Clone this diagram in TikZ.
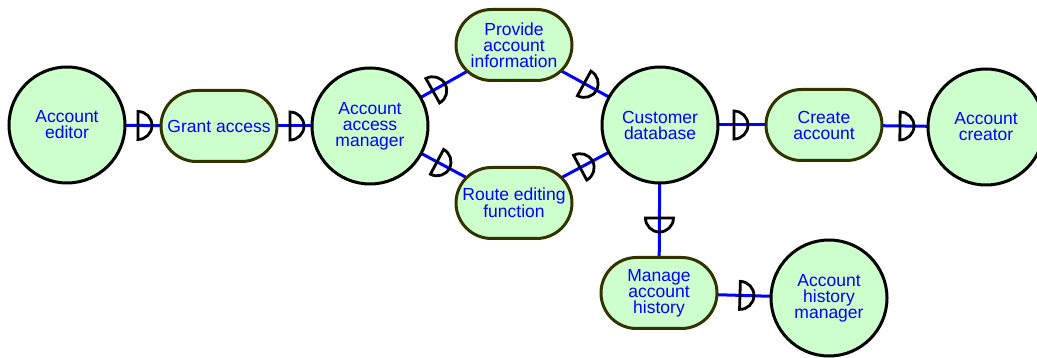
\documentclass[tikz,border=0pt]{standalone}
\usepackage{fontspec}
\setmainfont{Liberation Sans}
\usetikzlibrary{shapes.misc,decorations.markings}
\pgfdeclarelayer{background}
\pgfsetlayers{background,main}
\definecolor{nodefill}{HTML}{CCFFCC}
\definecolor{capsuleedge}{HTML}{333300}
\definecolor{linkblue}{HTML}{0000FF}

\tikzset{
  labeltext/.style={text=linkblue, align=center, font=\fontsize{17.5}{16}\selectfont},
  actor/.style={circle, draw=black, line width=3pt, fill=nodefill,
    minimum size=116pt, inner sep=0pt, labeltext},
  usecase/.style={rounded rectangle, draw=capsuleedge, line width=3pt, fill=nodefill,
    minimum width=116pt, minimum height=71pt, inner sep=0pt, labeltext},
  link/.style={draw=linkblue, line width=3pt},
  % half-disc socket: flat side faces the start of the link, bulge faces its end
  socket/.style={postaction={decorate, decoration={markings,
    mark=at position #1 with {\draw[black, line width=2.8pt]
      (0pt,14pt) arc[start angle=90, end angle=-90, radius=14pt] -- cycle;}}}}
}

\begin{document}
\begin{tikzpicture}[x=1pt, y=-1pt]
\useasboundingbox (0,0) rectangle (1037,358);

% actors and use cases
\node[actor]   (editor)  at (67,125)  {Account\\editor};
\node[usecase] (grant)   at (219,126) {Grant access};
\node[actor]   (accmgr)  at (370,126) {Account\\access\\manager};
\node[usecase] (provide) at (514,45)  {Provide\\account\\information};
\node[usecase] (route)   at (514,203) {Route editing\\function};
\node[actor]   (custdb)  at (660,125) {Customer\\database};
\node[usecase] (create)  at (824,125) {Create\\account};
\node[actor]   (creator) at (986,127) {Account\\creator};
\node[usecase] (history) at (659,293) {Manage\\account\\history};
\node[actor]   (histmgr) at (829,298) {Account\\history\\manager};

% links with their sockets, kept behind the nodes
\begin{pgfonlayer}{background}
  \fill[white] (0,0) rectangle (1037,358);
  \draw[link, socket=71pt] (editor.center)  -- (grant.center);
  \draw[link, socket=71pt] (grant.center)   -- (accmgr.center);
  \draw[link, socket=72pt] (accmgr.center)  -- (provide.center);
  \draw[link, socket=76pt] (accmgr.center)  -- (route.center);
  \draw[link, socket=80pt] (provide.center) -- (custdb.center);
  \draw[link, socket=75pt] (route.center)   -- (custdb.center);
  \draw[link, socket=74pt] (custdb.center)  -- (create.center);
  \draw[link, socket=76pt] (create.center)  -- (creator.center);
  \draw[link, socket=93pt] (custdb.center)  -- (history.center);
  \draw[link, socket=81pt] (history.center) -- (histmgr.center);
\end{pgfonlayer}
\end{tikzpicture}
\end{document}
